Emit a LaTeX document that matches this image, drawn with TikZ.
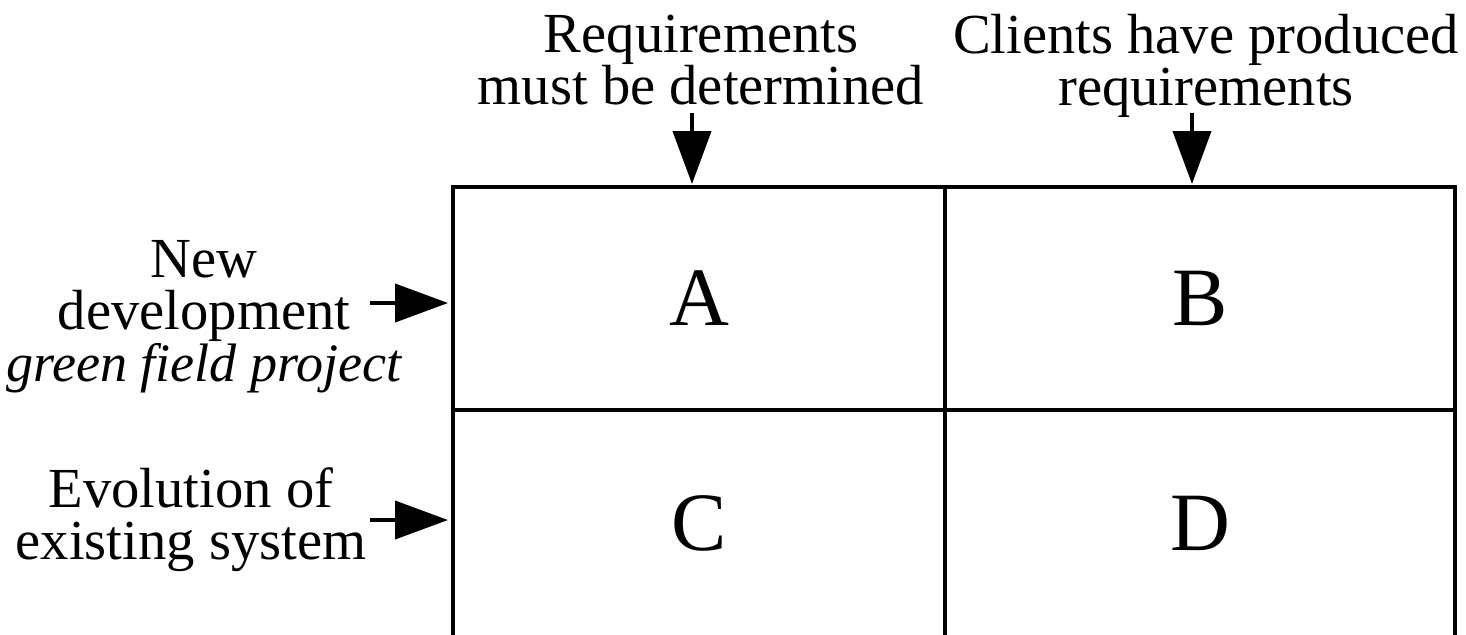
\documentclass[tikz,border=0pt]{standalone}
\usepackage{fontspec}
\setmainfont{Liberation Serif}
\usetikzlibrary{calc,positioning,arrows.meta}

\begin{document}
\begin{tikzpicture}[scale=1.0,
    cell/.style={draw,line width=0.04cm,outer sep=0pt,minimum width=4.92cm,minimum height=2.23cm,
      font=\fontsize{23.6}{28}\selectfont},
    lbl/.style={align=center,inner sep=0.08cm,font=\fontsize{16.1}{14.8}\selectfont},
    pointer/.style={line width=0.04cm,-{Triangle[length=0.53cm,width=0.38cm]}}]
    \useasboundingbox (0,0) rectangle (14.66,-6.34);

    \node[cell] (A) at (6.99,-2.985) {A};
    \node[cell,right=0cm of A,minimum width=5.10cm] (B) {B};
    \node[cell,below=0cm of A,minimum height=2.27cm] (C) {C};
    \node[cell,right=0cm of C,minimum width=5.10cm,minimum height=2.27cm] (D) {D};

    \node[lbl,anchor=north] (need) at (7.01,-0.06) {Requirements\\must be determined};
    \node[lbl,anchor=north] (given) at (12.06,-0.06) {Clients have produced\\requirements};
    \node[lbl,anchor=north] (newdev) at (2.04,-2.32)
      {New\\development\\\fontsize{15.4}{14.8}\selectfont\itshape green field project};
    \node[lbl,anchor=north] (evol) at (1.91,-4.59) {Evolution of\\existing system};

    \coordinate (inA) at ($(A.north)+(-0.07,0)$);
    \coordinate (inB) at ($(B.north)+(-0.08,0)$);
    \coordinate (inN) at (3.70,-3.03);
    \coordinate (inE) at (3.70,-5.20);
    \draw[pointer,shorten >=0.03cm] (need.south -| inA) -- (inA);
    \draw[pointer,shorten >=0.03cm] (need.south -| inB) -- (inB);
    \draw[pointer,shorten >=0.05cm] (inN) -- (inN -| A.west);
    \draw[pointer,shorten >=0.05cm] (inE) -- (inE -| C.west);
\end{tikzpicture}
\end{document}
